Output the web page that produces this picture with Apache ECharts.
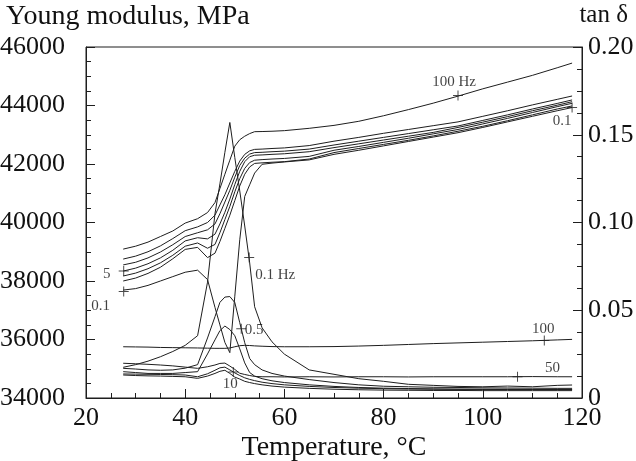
<!DOCTYPE html>
<html>
<head>
<meta charset="utf-8">
<title>Young modulus and tan δ vs temperature</title>
<script src="https://cdn.jsdelivr.net/npm/echarts@6.0.0/dist/echarts.min.js"></script>
<style>
html, body { margin: 0; padding: 0; background: #fff; }
#chart_content { width: 636px; height: 461px; }
</style>
</head>
<body>
<div id="chart_content"></div>
<script>
//温度点 Temperature, °C
var temperature = [27.5, 30, 32.5, 35, 37.5, 40, 42.5, 44.5, 46, 47, 48, 49, 50, 51, 52, 53, 54, 55.5, 57.5, 60, 65, 70, 75, 80, 85, 90, 95, 100, 105, 110, 115, 118];

//Young modulus, MPa (one array per frequency)
var modulus_100 = [39090, 39190, 39330, 39520, 39710, 39980, 40130, 40340, 40680, 41160, 41650, 42130, 42610, 42830, 42950, 43040, 43105, 43110, 43120, 43140, 43220, 43320, 43460, 43650, 43860, 44080, 44320, 44570, 44800, 45030, 45290, 45450];
var modulus_50 = [38750, 38850, 39000, 39200, 39450, 39720, 39850, 40000, 40250, 40600, 40950, 41350, 41750, 42100, 42330, 42450, 42500, 42510, 42530, 42550, 42630, 42780, 42910, 43050, 43180, 43310, 43440, 43630, 43820, 44020, 44210, 44325];
var modulus_10 = [38550, 38640, 38790, 38990, 39240, 39520, 39650, 39750, 39950, 40300, 40700, 41100, 41550, 41950, 42200, 42340, 42390, 42400, 42420, 42440, 42510, 42650, 42780, 42910, 43040, 43170, 43300, 43490, 43680, 43880, 44070, 44190];
var modulus_5 = [38340, 38440, 38590, 38790, 39050, 39370, 39480, 39440, 39600, 39950, 40350, 40800, 41300, 41750, 42080, 42250, 42300, 42310, 42330, 42350, 42420, 42560, 42690, 42820, 42950, 43080, 43250, 43430, 43620, 43820, 44010, 44130];
var modulus_1 = [38170, 38270, 38420, 38620, 38880, 39190, 39300, 39120, 39250, 39650, 40100, 40550, 41050, 41500, 41850, 42050, 42130, 42150, 42170, 42190, 42260, 42470, 42600, 42740, 42880, 43030, 43180, 43370, 43560, 43760, 43960, 44075];
var modulus_05 = [38000, 38100, 38260, 38470, 38760, 39080, 39150, 38800, 38950, 39350, 39800, 40250, 40750, 41250, 41650, 41900, 42020, 42040, 42060, 42080, 42170, 42390, 42530, 42670, 42810, 42960, 43120, 43290, 43480, 43680, 43880, 43985];
var modulus_01 = [37690, 37740, 37850, 38000, 38150, 38300, 38370, 38050, 37100, 36500, 35900, 35550, 37480, 39410, 40890, 41290, 41690, 41990, 42030, 42070, 42140, 42330, 42470, 42620, 42770, 42920, 43070, 43250, 43440, 43630, 43820, 43930];

//tan δ (one array per frequency)
var tan_01 = [0.0175, 0.019, 0.021, 0.0235, 0.0265, 0.030, 0.0355, 0.066, 0.105, 0.122, 0.140, 0.157, 0.137, 0.118, 0.098, 0.077, 0.052, 0.040, 0.032, 0.025, 0.016, 0.0135, 0.011, 0.0095, 0.0078, 0.0072, 0.0066, 0.0064, 0.0068, 0.0064, 0.0072, 0.0074];
var tan_05 = [0.0169, 0.0165, 0.016, 0.0158, 0.016, 0.017, 0.019, 0.0342, 0.0463, 0.0545, 0.0575, 0.0578, 0.0544, 0.0429, 0.0315, 0.0225, 0.019, 0.016, 0.014, 0.0125, 0.0105, 0.0088, 0.0075, 0.0067, 0.0064, 0.0061, 0.006, 0.0058, 0.0057, 0.0056, 0.0055, 0.0055];
var tan_1 = [0.015, 0.0145, 0.014, 0.014, 0.014, 0.0145, 0.015, 0.0251, 0.0331, 0.0384, 0.041, 0.039, 0.0355, 0.028, 0.020, 0.0145, 0.0125, 0.011, 0.0098, 0.0088, 0.0075, 0.0066, 0.006, 0.0056, 0.0054, 0.0052, 0.0051, 0.005, 0.005, 0.0049, 0.0049, 0.0049];
var tan_5 = [0.0131, 0.0128, 0.0126, 0.0125, 0.0123, 0.0121, 0.0112, 0.0125, 0.014, 0.0152, 0.0158, 0.014, 0.0119, 0.0108, 0.0095, 0.0088, 0.0082, 0.0075, 0.0068, 0.0062, 0.0055, 0.005, 0.0047, 0.0045, 0.0044, 0.0043, 0.0043, 0.0042, 0.0042, 0.0042, 0.0042, 0.0042];
var tan_10 = [0.0137, 0.0136, 0.0135, 0.0134, 0.0133, 0.0131, 0.0121, 0.0138, 0.0158, 0.0172, 0.0176, 0.016, 0.0143, 0.0128, 0.0115, 0.0106, 0.0099, 0.009, 0.0082, 0.0075, 0.0066, 0.006, 0.0056, 0.0053, 0.0051, 0.005, 0.0049, 0.0049, 0.0048, 0.0048, 0.0048, 0.0048];
var tan_50 = [0.0198, 0.0195, 0.0192, 0.0188, 0.0183, 0.0176, 0.0169, 0.0178, 0.0188, 0.0197, 0.0199, 0.0182, 0.0163, 0.0141, 0.0134, 0.0128, 0.0123, 0.0121, 0.0121, 0.012, 0.0121, 0.012, 0.0121, 0.0121, 0.012, 0.0121, 0.0121, 0.0121, 0.0121, 0.0122, 0.0121, 0.0121];
var tan_100 = [0.0292, 0.0291, 0.029, 0.0288, 0.0287, 0.0286, 0.0285, 0.0284, 0.0283, 0.0283, 0.0283, 0.0285, 0.0292, 0.0298, 0.030, 0.0299, 0.0297, 0.0295, 0.0293, 0.0292, 0.0292, 0.0293, 0.0296, 0.030, 0.0305, 0.031, 0.0314, 0.0318, 0.0322, 0.0326, 0.0331, 0.0334];

//曲线标注 "+" markers with their captions
var modulus_mark_t = [27.6, 27.6, 95, 118];
var modulus_mark_v = [38340, 37640, 44340, 43930];
var modulus_mark_text = ["5", "0.1", "100 Hz", "0.1"];
var tan_mark_t = [52.9, 51.3, 49.7, 107, 112.4];
var tan_mark_v = [0.080, 0.0395, 0.0148, 0.0121, 0.0328];
var tan_mark_text = ["0.1 Hz", "0.5", "10", "50", "100"];

// caption offsets from the "+" (pixels)
var modulus_mark_offset = [[-17, 3], [-23, 15], [-4, -13], [-10, 14]];
var tan_mark_offset = [[26, 17], [13, 1], [-3, 12], [35, -9], [-1, -11]];

var font_family = "'Liberation Serif', 'Times New Roman', serif";
var line_color = "#1e1e1e";
var plus_symbol = "path://M4.5,0H5.5V4.5H10V5.5H5.5V10H4.5V5.5H0V4.5H4.5Z";

//组合 [温度, 值]
function make_pairs(t_list, v_list){
	var pairs = [];
	for(var i = 0; i < v_list.length; i++){
		pairs.push([t_list[i], v_list[i]]);
	}
	return pairs;
}

function line_series(name, values, axis_index){
	return {
		name: name,
		type: "line",
		yAxisIndex: axis_index,
		showSymbol: false,
		symbol: "none",
		silent: true,
		lineStyle: { color: line_color, width: 1 },
		data: make_pairs(temperature, values)
	};
}

function marker_series(t_list, v_list, text_list, offsets, axis_index){
	var data = [];
	for(var i = 0; i < t_list.length; i++){
		data.push({
			value: [t_list[i], v_list[i]],
			label: {
				show: true,
				position: "inside",
				offset: offsets[i],
				formatter: text_list[i],
				color: "#111",
				fontSize: 15,
				fontFamily: font_family
			}
		});
	}
	return {
		type: "scatter",
		yAxisIndex: axis_index,
		symbol: plus_symbol,
		symbolSize: 10,
		itemStyle: { color: line_color },
		silent: true,
		z: 5,
		data: data
	};
}

//坐标轴文字
function get_label(margin, formatter){
	return {
		show: true,
		margin: margin,
		color: "#111",
		fontSize: 26,
		fontFamily: font_family,
		showMinLabel: true,
		showMaxLabel: true,
		formatter: formatter
	};
}

var name_style = { color: "#111", fontSize: 28, fontWeight: "normal", fontFamily: font_family };
var axis_line_style = { show: true, lineStyle: { color: line_color, width: 1 } };
var tick_style = { show: true, inside: true, length: 9, lineStyle: { color: line_color } };
var minor_tick_style = { show: true, splitNumber: 4, length: 5, lineStyle: { color: line_color } };

var chart = echarts.init(document.getElementById("chart_content"));
var option = {
	animation: false,
	backgroundColor: "#fff",
	title: [
		{ text: "Young modulus, MPa", left: 1, top: -2, textStyle: name_style },
		{ text: "tan δ", right: 3, top: -2, textStyle: { color: "#111", fontSize: 25, fontWeight: "normal", fontFamily: font_family } }
	],
	grid: {
		left: 86, right: 54, top: 47, bottom: 63,
		containLabel: false,
		outerBoundsMode: "none",
		show: true, borderColor: line_color, borderWidth: 1
	},
	xAxis: {
		type: "value",
		min: 20,
		max: 120,
		interval: 20,
		name: "Temperature, °C",
		nameLocation: "middle",
		nameGap: 36,
		nameMoveOverlap: false,
		nameTextStyle: name_style,
		axisLine: axis_line_style,
		axisTick: tick_style,
		minorTick: minor_tick_style,
		axisLabel: get_label(7, function(val){ return String(val); }),
		splitLine: { show: false }
	},
	yAxis: [
		{
			type: "value",
			position: "left",
			min: 34000,
			max: 46000,
			interval: 2000,
			axisLine: axis_line_style,
			axisTick: tick_style,
			minorTick: minor_tick_style,
			axisLabel: get_label(21, function(val){ return String(val); }),
			splitLine: { show: false }
		},
		{
			type: "value",
			position: "right",
			min: 0,
			max: 0.2,
			interval: 0.05,
			axisLine: axis_line_style,
			axisTick: tick_style,
			minorTick: minor_tick_style,
			axisLabel: get_label(6, function(val){ return val === 0 ? "0" : val.toFixed(2); }),
			splitLine: { show: false }
		}
	],
	series: [
		line_series("E' 100 Hz", modulus_100, 0),
		line_series("E' 50 Hz", modulus_50, 0),
		line_series("E' 10 Hz", modulus_10, 0),
		line_series("E' 5 Hz", modulus_5, 0),
		line_series("E' 1 Hz", modulus_1, 0),
		line_series("E' 0.5 Hz", modulus_05, 0),
		line_series("E' 0.1 Hz", modulus_01, 0),
		line_series("tan δ 0.1 Hz", tan_01, 1),
		line_series("tan δ 0.5 Hz", tan_05, 1),
		line_series("tan δ 1 Hz", tan_1, 1),
		line_series("tan δ 5 Hz", tan_5, 1),
		line_series("tan δ 10 Hz", tan_10, 1),
		line_series("tan δ 50 Hz", tan_50, 1),
		line_series("tan δ 100 Hz", tan_100, 1),
		marker_series(modulus_mark_t, modulus_mark_v, modulus_mark_text, modulus_mark_offset, 0),
		marker_series(tan_mark_t, tan_mark_v, tan_mark_text, tan_mark_offset, 1)
	]
};

chart.setOption(option, true);
window.onresize = function(){
	chart.resize();
}
</script>
</body>
</html>
